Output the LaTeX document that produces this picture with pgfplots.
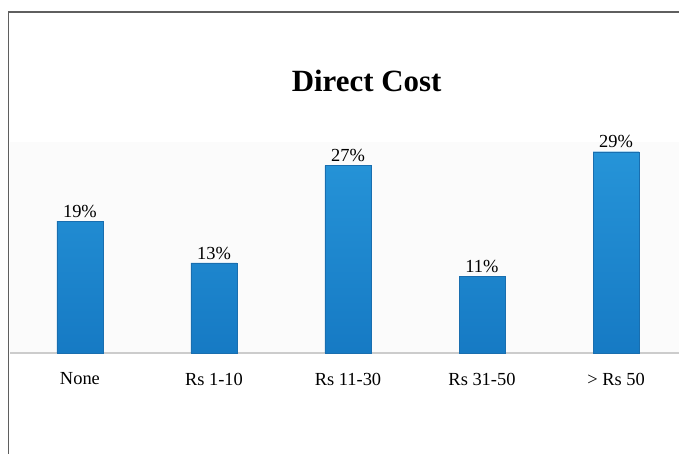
\documentclass[border=0pt]{standalone}
\usepackage{pgfplots}
\pgfplotsset{compat=1.18}
\usepackage{fontspec}
\setmainfont{Liberation Serif}
\definecolor{bartop}{RGB}{38,148,216}
\definecolor{barbot}{RGB}{22,122,196}
\definecolor{baredge}{RGB}{25,110,175}
\definecolor{framegray}{RGB}{95,95,95}
\begin{document}
\begin{tikzpicture}
\useasboundingbox (0,0) rectangle (679bp,454bp);
\draw[framegray, line width=1.3bp] (8.5bp,0) -- (8.5bp,442bp) -- (679bp,442bp);
\begin{axis}[
  at={(10bp,101bp)}, anchor=south west,
  scale only axis, width=669bp, height=211bp,
  xmin=-0.522, xmax=4.47, ymin=0, ymax=30.4,
  axis y line=none, axis x line*=bottom,
  x axis line style={draw=gray!40, line width=1.8bp, -},
  axis background/.style={fill=gray!3},
  ybar, bar width=46bp,
  xtick={0,...,4},
  xticklabels={None, Rs 1-10, Rs 11-30, Rs 31-50, {> Rs 50}},
  major x tick style={draw=none},
  xticklabel style={font=\fontsize{18.5}{20}\selectfont, yshift=-12bp},
  extra x ticks={-0.5,0.5,1.5,2.5,3.5},
  extra x tick labels={,,,,},
  extra x tick style={major tick length=4bp, tick align=outside, tick style={draw=gray!60, line width=1bp}},
  nodes near coords={\pgfmathprintnumber{\pgfplotspointmeta}\%},
  nodes near coords style={font=\fontsize{18.5}{20}\selectfont, /pgf/number format/assume math mode=true, black},
  title={Direct Cost},
  title style={font=\fontsize{31}{34}\selectfont\bfseries, at={(axis description cs:0.533,1.262)}, anchor=center},
  clip=false,
]
\addplot[top color=bartop, bottom color=barbot, draw=baredge] coordinates {(0,19) (1,13) (2,27) (3,11) (4,29)};
\end{axis}
\end{tikzpicture}
\end{document}
